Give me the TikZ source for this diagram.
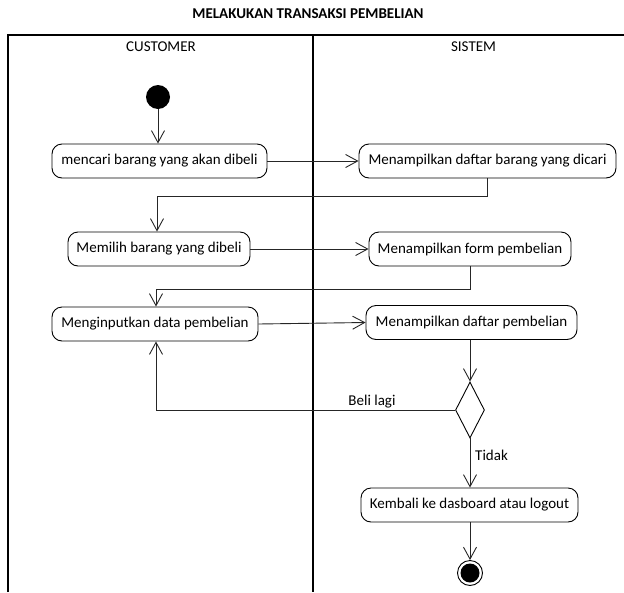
\documentclass[tikz,border=0pt]{standalone}
\usepackage{fontspec}
\setmainfont{Carlito}
\usetikzlibrary{arrows.meta,shapes.geometric}

\begin{document}
\begin{tikzpicture}[x=1pt,y=-1pt,
  lane/.style={line width=1.4pt,draw=black},
  act/.style={draw=black,rounded corners=10pt,minimum height=34pt,inner xsep=4pt,
    font=\fontsize{15}{18}\selectfont,line width=0.9pt},
  flow/.style={draw=black!85,line width=0.9pt,-{Straight Barb[length=12pt,width=13pt]}},
  lbl/.style={font=\fontsize{15}{18}\selectfont,inner sep=0pt},
  hdr/.style={font=\fontsize{15}{18}\selectfont,inner sep=0pt},
  decision/.style={diamond,draw=black,line width=0.9pt,minimum width=29pt,minimum height=56pt,inner sep=0pt},
  initial/.style={circle,fill=black,minimum size=24pt,inner sep=0pt},
  final/.style={circle,draw=black,line width=0.9pt,minimum size=25pt,inner sep=0pt},
  finaldot/.style={circle,fill=black,minimum size=19pt,inner sep=0pt}
]
\useasboundingbox (0,0) rectangle (624,592);

% title and swimlanes
\node[font=\bfseries\fontsize{15}{18}\selectfont,inner sep=0pt] (title) at (308,14) {MELAKUKAN TRANSAKSI PEMBELIAN};
\draw[lane] (8,592) -- (8,35) -- (624,35);
\draw[lane] (313,35) -- (313,592);
\node[hdr] (hcust) at (161,47) {CUSTOMER};
\node[hdr] (hsys) at (473.5,47) {SISTEM};

% activities
\node[initial] (start) at (158,97) {};
\node[act,minimum width=215pt] (a1) at (159.5,161) {mencari barang yang akan dibeli};
\node[act,minimum width=257pt] (a2) at (487.5,161) {Menampilkan daftar barang yang dicari};
\node[act,minimum width=182pt] (a3) at (159,249) {Memilih barang yang dibeli};
\node[act,minimum width=202pt] (a4) at (470,249) {Menampilkan form pembelian};
\node[act,minimum width=206pt] (a5) at (155,324) {Menginputkan data pembelian};
\node[act,minimum width=211pt] (a6) at (471.5,322.5) {Menampilkan daftar pembelian};
\node[decision] (dec) at (470,410) {};
\node[act,minimum width=217pt] (a7) at (469.5,505) {Kembali ke dasboard atau logout};
\node[final] (end) at (470,573) {};
\node[finaldot] (enddot) at (end) {};

% bend points
\coordinate (b1) at (157,196);
\coordinate (b2) at (156,289);
\coordinate (b3) at (156,410);

% flows
\draw[flow] (start.south) -- (start.south |- a1.north);
\draw[flow] (a1.east) -- (a2.west);
\draw[flow] (a2.south) |- (b1) -- (b1 |- a3.north);
\draw[flow] (a3.east) -- (a4.west);
\draw[flow] (a4.south) |- (b2) -- (b2 |- a5.north);
\draw[flow] (a5.east) -- (a6.west);
\draw[flow] (a6.south -| dec.north) -- (dec.north);
\draw[flow] (dec.west) -- (b3) -- (b3 |- a5.south);
\node[lbl] (lbeli) at (372,402) {Beli lagi};
\draw[flow] (dec.south) -- (a7.north -| dec.south);
\node[lbl,anchor=west] (ltidak) at (475,455) {Tidak};
\draw[flow] (a7.south -| end.north) -- (end.north);
\end{tikzpicture}
\end{document}
